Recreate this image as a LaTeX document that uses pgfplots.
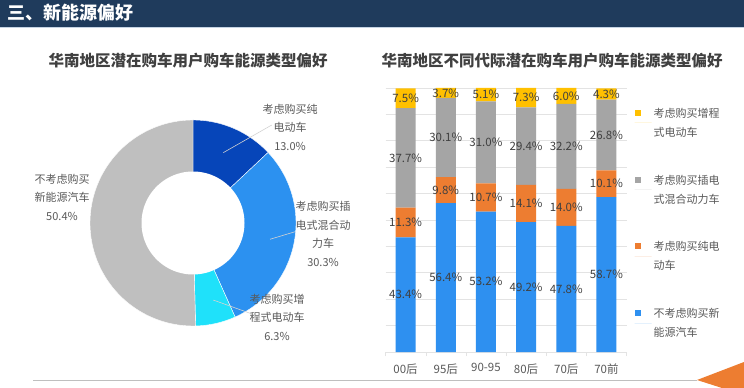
\documentclass[border=0pt]{standalone}
\usepackage{fontspec}
\setmainfont{Noto Sans CJK SC}
\usepackage{pgfplots}
\pgfplotsset{compat=1.18}
\usepackage{pgfplotstable}

\definecolor{navy}{HTML}{1F3B5C}
\definecolor{txt}{HTML}{404040}
\definecolor{lgt}{HTML}{595959}
\definecolor{cblue}{HTML}{2E90F0}
\definecolor{corange}{HTML}{ED7D31}
\definecolor{cgrey}{HTML}{A5A5A5}
\definecolor{cyellow}{HTML}{FFC000}
\definecolor{pdark}{HTML}{0645B9}
\definecolor{pmid}{HTML}{2C91F0}
\definecolor{pcyan}{HTML}{1FE1FA}
\definecolor{pgrey}{HTML}{BFBFBF}
\definecolor{gridc}{HTML}{E3E3E3}

\pgfplotstableread{
idx blue orange grey yellow
0 43.4 11.3 37.7 7.5
1 56.4 9.8 30.1 3.7
2 53.2 10.7 31.0 5.1
3 49.2 14.1 29.4 7.3
4 47.8 14.0 32.2 6.0
5 58.7 10.1 26.8 4.3
}\bardata

\pgfplotsset{
  barframe/.style={at={(385.5pt,36pt)}, anchor=south west, scale only axis,
    width=241pt, height=264pt, xmin=-0.5, xmax=5.5, ymin=0, ymax=100},
  seglabel/.style={draw=none, mark=none, point meta=explicit,
    nodes near coords={\pgfmathprintnumber[fixed,fixed zerofill,precision=1,assume math mode=true]{\pgfplotspointmeta}\%},
    every node near coord/.style={anchor=center, font=\fontsize{11.5}{13}\selectfont, text=txt}},
}

\begin{document}
\begin{tikzpicture}
\path[use as bounding box, fill=white] (0pt,0pt) rectangle (744pt,388pt);
% header
\fill[navy] (0pt,361pt) rectangle (744pt,388pt);
\draw[color={rgb,255:red,197;green,211;blue,227}, line width=1pt] (0pt,360pt) -- (744pt,360pt);
\node[anchor=west, font=\fontsize{18}{20}\selectfont\bfseries, text=white, inner sep=0pt] at (7pt,375pt) {三、新能源偏好};
% titles
\node[font=\fontsize{15.5}{18}\selectfont\bfseries, text=txt] at (188pt,327pt) {华南地区潜在购车用户购车能源类型偏好};
\node[font=\fontsize{15.5}{18}\selectfont\bfseries, text=txt] at (552pt,327pt) {华南地区不同代际潜在购车用户购车能源类型偏好};
% bottom decoration
\draw[color={rgb,255:red,191;green,191;blue,191}, line width=0.8pt] (33pt,8pt) -- (697pt,8pt);
\fill[corange] (697pt,8pt) -- (744pt,26pt) -- (744pt,0pt) -- (722pt,0pt) -- cycle;

% donut
\begin{axis}[at={(193pt,165pt)}, anchor=center, scale only axis,
  width=206pt, height=206pt, xmin=-1, xmax=1, ymin=-1, ymax=1,
  hide axis, clip=false]
\addplot[fill=pdark, draw=white, line width=0.4pt, domain=43.2:90, samples=40, variable=\t] ({cos(\t)},{sin(\t)}) -- (0,0) -- cycle;
\addplot[fill=pmid, draw=white, line width=0.4pt, domain=-65.88:43.2, samples=60, variable=\t] ({cos(\t)},{sin(\t)}) -- (0,0) -- cycle;
\addplot[fill=pcyan, draw=white, line width=0.4pt, domain=-88.56:-65.88, samples=20, variable=\t] ({cos(\t)},{sin(\t)}) -- (0,0) -- cycle;
\addplot[fill=pgrey, draw=white, line width=0.4pt, domain=-270:-88.56, samples=90, variable=\t] ({cos(\t)},{sin(\t)}) -- (0,0) -- cycle;
\addplot[fill=white, draw=none, domain=0:360, samples=120, variable=\t] ({0.5*cos(\t)},{0.5*sin(\t)}) -- cycle;
\draw[color=gray!35, line width=0.6pt] (axis cs:0.294,0.683) -- (axis cs:0.764,0.951);
\draw[color=gray!35, line width=0.6pt] (axis cs:0.748,-0.158) -- (axis cs:0.990,-0.085);
\draw[color=gray!35, line width=0.6pt] (axis cs:0.197,-0.748) -- (axis cs:0.553,-0.876);
\end{axis}
\begin{scope}[every node/.style={font=\fontsize{11}{18.5}\selectfont, text=lgt, align=center}]
\node at (290pt,261pt) {考虑购买纯\\电动车\\13.0\%};
\node at (323pt,154pt) {考虑购买插\\电式混合动\\力车\\30.3\%};
\node at (277pt,71pt) {考虑购买增\\程式电动车\\6.3\%};
\node at (62pt,191pt) {不考虑购买\\新能源汽车\\50.4\%};
\end{scope}

% stacked bars
\begin{axis}[barframe,
  ybar stacked, bar width=20pt,
  axis lines*=left,
  x axis line style={draw=gridc},
  y axis line style={draw=none},
  ytick={10,20,...,100}, yticklabels={}, ytick style={draw=none},
  ymajorgrids, grid style={draw=gridc, line width=0.6pt},
  xtick={0,...,5},
  xticklabels={00后,95后,90-95,80后,70后,70前},
  xtick style={draw=none},
  extra x ticks={-0.5,0.5,1.5,2.5,3.5,4.5,5.5},
  extra x tick labels={},
  extra x tick style={xtick style={draw=gridc}, tick align=outside, major tick length=4pt, xmajorgrids=false},
  ticklabel style={font=\fontsize{11.5}{13}\selectfont, text=lgt},
  xticklabel style={yshift=-8pt},
  reverse legend,
  legend image code/.code={\fill[#1] (0pt,7pt) rectangle (6pt,13pt); \path (0pt,0pt) -- (17pt,0pt);},
  legend style={at={(1.02,0.94)}, anchor=north west, draw=none, fill=none,
    font=\fontsize{11}{19}\selectfont, text=lgt,
    cells={anchor=west, align=left}, row sep=33pt},
]
\addplot[fill=cblue, draw=none] table[x=idx, y=blue] {\bardata};
\addplot[fill=corange, draw=none] table[x=idx, y=orange] {\bardata};
\addplot[fill=cgrey, draw=none] table[x=idx, y=grey] {\bardata};
\addplot[fill=cyellow, draw=none] table[x=idx, y=yellow] {\bardata};
\legend{不考虑购买新\\能源汽车, 考虑购买纯电\\动车, 考虑购买插电\\式混合动力车, 考虑购买增程\\式电动车}
\end{axis}
% segment labels, centred in each segment
\begin{axis}[barframe, hide axis, clip=false]
\addplot[seglabel] table[x=idx, y expr={\thisrow{blue}/2}, meta=blue] {\bardata};
\addplot[seglabel] table[x=idx, y expr={\thisrow{blue}+\thisrow{orange}/2}, meta=orange] {\bardata};
\addplot[seglabel] table[x=idx, y expr={\thisrow{blue}+\thisrow{orange}+\thisrow{grey}/2}, meta=grey] {\bardata};
\addplot[seglabel] table[x=idx, y expr={\thisrow{blue}+\thisrow{orange}+\thisrow{grey}+\thisrow{yellow}/2}, meta=yellow] {\bardata};
\end{axis}
\end{tikzpicture}
\end{document}
